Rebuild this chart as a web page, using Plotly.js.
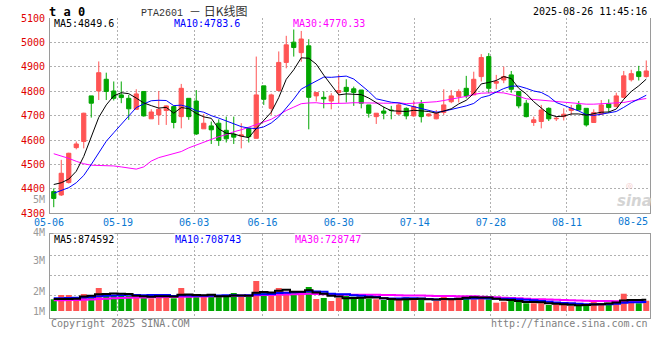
<!DOCTYPE html>
<html><head><meta charset="utf-8">
<script src="https://cdn.plot.ly/plotly-3.0.1.min.js"></script>
<style>html,body{margin:0;padding:0;background:#fff}#chart{width:660px;height:360px}</style>
</head><body><div id="chart"></div>
<script>
const dates = ["05-06","05-07","05-08","05-09","05-12","05-13","05-14","05-15","05-16","05-19","05-20","05-21","05-22","05-23","05-26","05-27","05-28","05-29","05-30",
"06-03","06-04","06-05","06-06","06-09","06-10","06-11","06-12","06-13","06-16","06-17","06-18","06-19","06-20","06-23","06-24","06-25","06-26","06-27","06-30",
"07-01","07-02","07-03","07-04","07-07","07-08","07-09","07-10","07-11","07-14","07-15","07-16","07-17","07-18","07-21","07-22","07-23","07-24","07-25","07-28","07-29","07-30","07-31",
"08-01","08-04","08-05","08-06","08-07","08-08","08-11","08-12","08-13","08-14","08-15","08-18","08-19","08-20","08-21","08-22","08-25","08-26"];
const tickDates = ["05-06","05-19","06-03","06-16","06-30","07-14","07-28","08-11","08-25"];

const open  = [4389,4375,4426,4569,4594,4781,4801,4849,4801,4785,4771,4726,4799,4687,4703,4721,4737,4696,4771,4760,4646,4658,4669,4640,4624,4617,4648,4607,4822,4730,4803,4918,5001,4958,4986,4781,4775,4760,4795,4816,4810,4805,4744,4696,4719,4723,4707,4730,4699,4748,4699,4687,4713,4757,4778,4812,4785,4860,4942,4833,4846,4867,4799,4751,4672,4676,4730,4687,4696,4721,4744,4730,4672,4706,4748,4737,4775,4847,4880,4860];
const high  = [4402,4519,4548,4594,4712,4781,4922,4876,4840,4840,4785,4808,4801,4726,4801,4742,4740,4830,4771,4805,4707,4676,4685,4696,4696,4669,4648,4942,4822,4790,4963,5027,5076,5047,5013,4795,4799,4792,4867,4849,4819,4805,4744,4710,4737,4740,4751,4734,4762,4764,4710,4723,4808,4805,4808,4863,4880,4952,4956,4867,4901,4883,4801,4764,4696,4744,4734,4696,4730,4744,4760,4730,4726,4764,4767,4794,4883,4888,4904,4926];
const low   = [4325,4371,4422,4562,4566,4692,4764,4764,4762,4751,4683,4726,4696,4687,4662,4662,4648,4648,4683,4621,4646,4584,4576,4590,4584,4566,4590,4607,4744,4703,4799,4894,4942,4921,4644,4758,4730,4726,4751,4754,4740,4730,4692,4666,4685,4685,4703,4685,4696,4672,4696,4685,4703,4751,4754,4771,4785,4840,4792,4808,4833,4794,4730,4693,4658,4648,4678,4678,4680,4703,4721,4655,4672,4703,4713,4734,4771,4840,4844,4856];
const close = [4361,4464,4546,4584,4710,4751,4876,4799,4771,4774,4728,4789,4699,4715,4726,4740,4672,4812,4696,4625,4669,4642,4598,4605,4612,4621,4614,4785,4767,4785,4918,4990,4979,5014,4775,4795,4769,4781,4803,4799,4795,4751,4710,4710,4710,4721,4744,4699,4737,4696,4707,4710,4744,4781,4799,4781,4849,4938,4812,4840,4860,4808,4740,4696,4683,4723,4687,4689,4706,4730,4723,4662,4713,4744,4733,4781,4863,4872,4860,4883];

const ma5  = [4418,4425,4440,4472,4533,4611,4693,4744,4781,4794,4790,4772,4752,4741,4731,4734,4710,4733,4729,4709,4695,4689,4646,4628,4625,4616,4610,4647,4680,4714,4774,4849,4888,4937,4935,4911,4866,4827,4785,4789,4789,4786,4772,4753,4735,4720,4719,4717,4722,4719,4717,4710,4719,4728,4748,4763,4791,4830,4836,4844,4860,4852,4812,4789,4757,4730,4706,4696,4698,4707,4707,4702,4707,4714,4715,4727,4767,4799,4822,4849.6];
const ma10 = [4382,4392,4405,4425,4455,4500,4550,4595,4630,4664,4700,4733,4748,4761,4763,4762,4741,4743,4735,4720,4714,4700,4690,4679,4667,4655,4649,4647,4654,4670,4695,4730,4768,4809,4825,4842,4858,4857,4861,4862,4850,4826,4799,4769,4762,4755,4752,4744,4738,4727,4719,4714,4718,4725,4734,4740,4750,4774,4782,4796,4811,4821,4821,4812,4801,4795,4779,4754,4743,4732,4719,4704,4701,4706,4711,4717,4734,4753,4768,4783.6];
const ma30 = [4544,4535,4525,4513,4503,4497,4496,4496,4494,4490,4484,4481,4490,4514,4528,4537,4543,4553,4568,4580,4592,4604,4614,4622,4634,4642,4652,4662,4675,4685,4703,4721,4735,4749,4752,4753,4749,4749,4750,4751,4753,4752,4752,4752,4751,4751,4753,4749,4751,4753,4754,4757,4762,4767,4774,4779,4787,4792,4793,4795,4793,4787,4779,4769,4766,4763,4760,4757,4754,4752,4749,4747,4747,4748,4749,4751,4754,4760,4764,4770.33];

const volume = [913000,1248000,1248000,913000,1326000,1225000,1794000,1326000,1170000,1170000,1170000,1115000,1115000,990000,1326000,1248000,990000,1794000,1115000,1115000,1115000,1170000,1248000,1115000,1404000,1115000,1115000,2340000,1427000,1248000,1794000,1505000,1560000,1381000,1872000,936000,1014000,780000,1037000,1170000,1115000,1069000,990000,913000,858000,858000,913000,1069000,990000,990000,647000,780000,1248000,913000,1069000,1170000,913000,1170000,913000,647000,725000,858000,725000,601000,601000,601000,468000,523000,468000,390000,390000,546000,725000,601000,647000,803000,1349000,858000,601000,803000];
const vma5  = [936000,936000,936000,960000,1130000,1192000,1301000,1317000,1368000,1337000,1326000,1190000,1148000,1112000,1143000,1159000,1134000,1270000,1295000,1252000,1226000,1262000,1153000,1153000,1210000,1210000,1199000,1418000,1480000,1449000,1585000,1663000,1507000,1498000,1622000,1451000,1353000,1197000,1128000,987000,1023000,1034000,1076000,1051000,989000,938000,906000,922000,938000,964000,922000,895000,931000,916000,931000,1036000,1063000,1047000,1047000,963000,874000,863000,774000,711000,702000,677000,599000,559000,532000,490000,448000,463000,504000,530000,582000,664000,825000,852000,852000,874592];
const vma10 = [990000,1000000,1010000,1030000,1060000,1100000,1150000,1180000,1210000,1233000,1259000,1246000,1232000,1240000,1240000,1242000,1162000,1209000,1203000,1198000,1192000,1198000,1211000,1224000,1231000,1218000,1231000,1285000,1316000,1330000,1398000,1431000,1462000,1489000,1536000,1518000,1508000,1352000,1313000,1305000,1237000,1193000,1136000,1090000,988000,980000,970000,999000,995000,977000,930000,901000,927000,927000,948000,979000,979000,989000,981000,947000,955000,963000,910000,879000,832000,775000,731000,666000,622000,596000,563000,531000,531000,531000,536000,556000,644000,678000,691000,708743];
const vma30 = [830000,840000,850000,860000,870000,900000,930000,960000,990000,1010000,1030000,1045000,1060000,1070000,1080000,1090000,1100000,1110000,1120000,1130000,1140000,1150000,1160000,1170000,1180000,1190000,1200000,1220000,1240000,1254000,1283000,1292000,1302000,1318000,1336000,1326000,1300000,1282000,1277000,1277000,1276000,1274000,1270000,1267000,1252000,1239000,1236000,1212000,1208000,1204000,1188000,1175000,1175000,1168000,1157000,1159000,1152000,1113000,1096000,1076000,1041000,1019000,991000,965000,923000,912000,893000,885000,866000,840000,816000,798000,789000,779000,772000,770000,785000,778000,765000,728747];

const volTickLabels = ["5M","4M","3M","2M","1M"];

// ---------- styling / layout helpers ----------
const RED = '#ff5454', GREEN = '#00a600';
const W = 660, H = 360;
const px = x => x / W, py = y => (H - y) / H;
const mono = 'DejaVu Sans Mono';
const gridColor = '#b0b0b0', lineColor = '#9a9a9a', gdash = '2px,2px';

const xs = dates.map((d, i) => i);
const tickIdx = tickDates.map(d => dates.indexOf(d));
// vertical grid lines are spaced slightly wider than candles in the original
const gridPos = tickIdx.map(i => i * 1.0147 - 0.567);
const innerPos = gridPos.slice(1, -1), innerText = tickDates.slice(1, -1);
const volColors = close.map((c, i) => c >= open[i] ? RED : GREEN);
const last = a => a[a.length - 1];

const traces = [
  {type:'candlestick', x:xs, open:open, high:high, low:low, close:close, text:dates, xaxis:'x', yaxis:'y',
   increasing:{line:{color:RED, width:1}, fillcolor:RED},
   decreasing:{line:{color:GREEN, width:1}, fillcolor:GREEN}, whiskerwidth:0, hoverinfo:'skip'},
  {type:'scatter', mode:'lines', x:xs, y:ma30, xaxis:'x', yaxis:'y', line:{color:'#ff00ff', width:1}, hoverinfo:'skip'},
  {type:'scatter', mode:'lines', x:xs, y:ma10, xaxis:'x', yaxis:'y', line:{color:'#0000ff', width:1}, hoverinfo:'skip'},
  {type:'scatter', mode:'lines', x:xs, y:ma5, xaxis:'x', yaxis:'y', line:{color:'#000000', width:1}, hoverinfo:'skip'},
  {type:'bar', x:xs, y:volume, xaxis:'x2', yaxis:'y2', width:0.8, marker:{color:volColors, line:{width:0}}, hoverinfo:'skip'},
  {type:'scatter', mode:'lines', x:xs, y:vma30, xaxis:'x2', yaxis:'y2', line:{color:'#ff00ff', width:2, shape:'hvh'}, hoverinfo:'skip'},
  {type:'scatter', mode:'lines', x:xs, y:vma10, xaxis:'x2', yaxis:'y2', line:{color:'#0000ff', width:2, shape:'hvh'}, hoverinfo:'skip'},
  {type:'scatter', mode:'lines', x:xs, y:vma5, xaxis:'x2', yaxis:'y2', line:{color:'#000000', width:2, shape:'hvh'}, hoverinfo:'skip'}
];

const ann = (text, x, y, o) => Object.assign({text:text, x:px(x), y:py(y), xref:'paper', yref:'paper',
  showarrow:false, xanchor:'left', yanchor:'middle', font:{family:mono, size:10, color:'#000'}}, o || {});

const annotations = [
  ann('t a 0', 47, 12, {font:{family:mono, size:12, color:'#000', weight:'bold'}}),
  ann('PTA2601 <span style="font-family:Noto Sans CJK SC;font-size:12px">－ 日K线图</span>', 139, 10, {font:{family:'Liberation Mono', size:10, color:'#333'}}),
  ann('2025-08-26 11:45:16', 649, 12, {xanchor:'right'}),
  ann('MA5:' + last(ma5), 53, 24, {bgcolor:'#fff', borderpad:0}),
  ann('MA10:' + last(ma10), 173, 24, {bgcolor:'#fff', borderpad:0, font:{family:mono, size:10, color:'#0000ff'}}),
  ann('MA30:' + last(ma30), 292, 24, {bgcolor:'#fff', borderpad:0, font:{family:mono, size:10, color:'#ff00ff'}}),
  ann('MA5:' + last(vma5), 53, 239.5, {bgcolor:'#fff', borderpad:0}),
  ann('MA10:' + last(vma10), 174, 239.5, {bgcolor:'#fff', borderpad:0, font:{family:mono, size:10, color:'#0000ff'}}),
  ann('MA30:' + last(vma30), 294, 239.5, {bgcolor:'#fff', borderpad:0, font:{family:mono, size:10, color:'#ff00ff'}}),
  ann(tickDates[0], 49, 222.5, {xanchor:'center', font:{family:mono, size:10, color:'#0a78d2'}}),
  ann(last(tickDates), 650, 221, {xanchor:'right', font:{family:mono, size:10, color:'#0a78d2'}}),
  ann('Copyright 2025 SINA.COM', 49, 323, {font:{family:mono, size:10, color:'#808080'}}),
  ann('http://finance.sina.com.cn', 650, 323, {xanchor:'right', font:{family:mono, size:10, color:'#808080'}}),
  ann('<i><b>sina</b></i>', 634, 201, {xanchor:'center', font:{family:'DejaVu Sans', size:15, color:'#d4d4d4'}}),
  ann('◎', 629, 186, {xanchor:'center', font:{family:'DejaVu Sans', size:8, color:'#f3c4c4'}})
];
const volLabelY = [199, 233, 260, 291, 311];
volTickLabels.forEach((t, k) => annotations.push(ann(t, 47, volLabelY[k], {xanchor:'right', font:{family:mono, size:10, color:'#999'}})));

const layout = {
  width:W, height:H, margin:{l:0, r:0, t:0, b:0}, paper_bgcolor:'#fff', plot_bgcolor:'#fff',
  showlegend:false, boxgap:0.2, bargap:0.2, font:{family:mono, size:10, color:'#000'},
  xaxis:{domain:[px(50), px(650)], anchor:'y', range:[-0.5, 79.5], tickvals:innerPos, ticktext:innerText,
    showgrid:true, gridcolor:gridColor, griddash:gdash, gridwidth:1, ticks:'', tickfont:{family:mono, size:10, color:'#0a78d2'},
    showline:true, linecolor:lineColor, linewidth:1, zeroline:false, rangeslider:{visible:false}, fixedrange:true},
  yaxis:{domain:[py(213.3), py(18)], anchor:'x', range:[4300, 5100], tick0:4300, dtick:100, side:'left',
    showgrid:true, gridcolor:gridColor, griddash:gdash, ticks:'', ticklabelstandoff:2,
    tickfont:{family:mono, size:10, color:'#e00000'}, showline:true, mirror:true, linecolor:lineColor, zeroline:false, fixedrange:true},
  xaxis2:{domain:[px(50), px(650)], anchor:'y2', range:[-0.5, 79.5], tickvals:innerPos, showticklabels:false,
    showgrid:true, gridcolor:gridColor, griddash:gdash, ticks:'', showline:true, mirror:true, linecolor:lineColor, zeroline:false, fixedrange:true},
  yaxis2:{domain:[py(318), py(234)], anchor:'x2', range:[-546000, 6006000], tickvals:[1193000, 2753000, 4313000], showticklabels:false,
    showgrid:true, gridcolor:gridColor, griddash:gdash, ticks:'', showline:true, mirror:true, linecolor:lineColor, zeroline:false, fixedrange:true},
  annotations:annotations
};

Plotly.newPlot('chart', traces, layout, {staticPlot:true, displayModeBar:false});
</script>
</body></html>
